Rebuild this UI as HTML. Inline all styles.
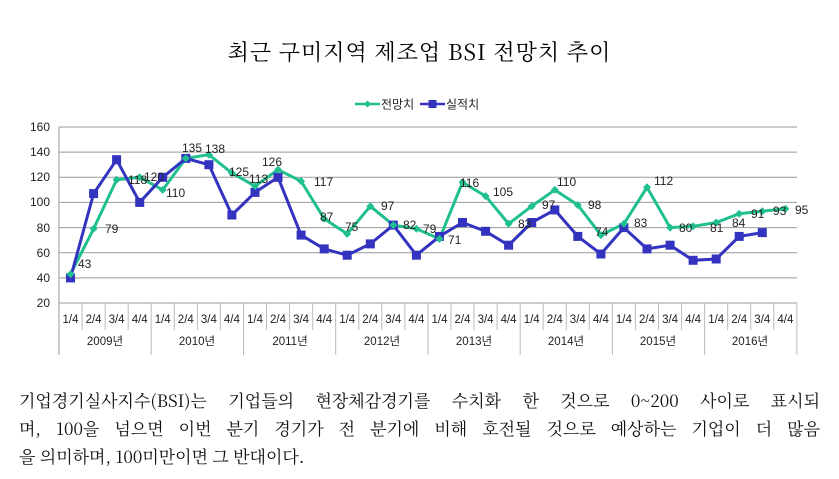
<!DOCTYPE html>
<html><head><meta charset="utf-8"><style>
body{margin:0;background:#fff;width:839px;height:479px;overflow:hidden;position:relative;font-family:"Liberation Serif","Noto Serif CJK SC",serif}
.t{position:absolute;left:0;width:839px;top:36px;text-align:center;font-size:22px;color:#000;letter-spacing:1px;font-family:"Noto Serif CJK SC",serif}
.p{position:absolute;left:19px;width:801px;font-size:17px;color:#111;text-align:justify;text-align-last:justify;white-space:nowrap;font-family:"Noto Serif CJK SC",serif;line-height:24px}
</style></head><body>
<div class="t">최근 구미지역 제조업 BSI 전망치 추이</div>
<svg width="839" height="479" style="position:absolute;left:0;top:0" font-family="Liberation Sans,Noto Sans CJK KR,sans-serif">
<g stroke="#999" stroke-width="1">
<line x1="59" y1="127" x2="797" y2="127"/><line x1="59" y1="152.1" x2="797" y2="152.1"/><line x1="59" y1="177.3" x2="797" y2="177.3"/><line x1="59" y1="202.4" x2="797" y2="202.4"/><line x1="59" y1="227.6" x2="797" y2="227.6"/><line x1="59" y1="252.7" x2="797" y2="252.7"/><line x1="59" y1="277.9" x2="797" y2="277.9"/><line x1="59" y1="303" x2="797" y2="303"/>
<line x1="59" y1="127" x2="59" y2="355"/>
</g>
<g stroke="#bbb" stroke-width="1">
<path d="M82.1 303V330M105.1 303V330M128.2 303V330M174.3 303V330M197.4 303V330M220.4 303V330M266.5 303V330M289.6 303V330M312.7 303V330M358.8 303V330M381.8 303V330M404.9 303V330M451 303V330M474 303V330M497.1 303V330M543.2 303V330M566.3 303V330M589.3 303V330M635.4 303V330M658.5 303V330M681.6 303V330M727.7 303V330M750.7 303V330M773.8 303V330"/>
<path d="M151.2 303V355M243.5 303V355M335.7 303V355M428 303V355M520.2 303V355M612.4 303V355M704.6 303V355M796.9 303V355"/>
</g>
<g font-size="12" fill="#222" text-anchor="end">
<text x="50" y="131">160</text><text x="50" y="156">140</text><text x="50" y="181">120</text><text x="50" y="206">100</text><text x="50" y="232">80</text><text x="50" y="257">60</text><text x="50" y="282">40</text><text x="50" y="307">20</text>
</g>
<g font-size="11.5" fill="#222" text-anchor="middle">
<text x="70.5" y="323">1/4</text><text x="93.6" y="323">2/4</text><text x="116.6" y="323">3/4</text><text x="139.7" y="323">4/4</text>
<text x="162.7" y="323">1/4</text><text x="185.8" y="323">2/4</text><text x="208.9" y="323">3/4</text><text x="231.9" y="323">4/4</text>
<text x="255" y="323">1/4</text><text x="278" y="323">2/4</text><text x="301.1" y="323">3/4</text><text x="324.2" y="323">4/4</text>
<text x="347.2" y="323">1/4</text><text x="370.3" y="323">2/4</text><text x="393.3" y="323">3/4</text><text x="416.4" y="323">4/4</text>
<text x="439.5" y="323">1/4</text><text x="462.5" y="323">2/4</text><text x="485.6" y="323">3/4</text><text x="508.6" y="323">4/4</text>
<text x="531.7" y="323">1/4</text><text x="554.8" y="323">2/4</text><text x="577.8" y="323">3/4</text><text x="600.9" y="323">4/4</text>
<text x="623.9" y="323">1/4</text><text x="647" y="323">2/4</text><text x="670.1" y="323">3/4</text><text x="693.1" y="323">4/4</text>
<text x="716.2" y="323">1/4</text><text x="739.2" y="323">2/4</text><text x="762.3" y="323">3/4</text><text x="785.4" y="323">4/4</text>
<text x="105" y="345">2009년</text><text x="197" y="345">2010년</text><text x="290" y="345">2011년</text><text x="382" y="345">2012년</text><text x="474" y="345">2013년</text><text x="566" y="345">2014년</text><text x="658" y="345">2015년</text><text x="750" y="345">2016년</text>
</g>
<polyline fill="none" stroke="#1fbf8f" stroke-width="3" points="70.5,274.1 93.6,228.8 116.6,179.8 139.7,177.3 162.7,189.9 185.8,158.4 208.9,154.7 231.9,173 255,186.1 278,169.7 301.1,181.1 324.2,218.8 347.2,233.9 370.3,206.2 393.3,225.1 416.4,228.8 439.5,238.9 462.5,182.3 485.6,196.1 508.6,223.8 531.7,206.2 554.8,189.9 577.8,205 600.9,235.1 623.9,223.8 647,187.3 670.1,227.6 693.1,226.3 716.2,222.5 739.2,213.7 762.3,211.2 785.4,208.7"/>
<polyline fill="none" stroke="#3333c0" stroke-width="3" points="70.5,277.9 93.6,193.6 116.6,159.7 139.7,202.4 162.7,177.3 185.8,158.4 208.9,164.7 231.9,215 255,192.4 278,177.3 301.1,235.1 324.2,248.9 347.2,255.2 370.3,243.9 393.3,225.1 416.4,255.2 439.5,236.4 462.5,222.5 485.6,231.3 508.6,245.2 531.7,222.5 554.8,209.9 577.8,236.4 600.9,254 623.9,227.6 647,248.9 670.1,245.2 693.1,260.3 716.2,259 739.2,236.4 762.3,232.6"/>
<g fill="#3333c0">
<rect x="66" y="273.4" width="9" height="9"/><rect x="89.1" y="189.1" width="9" height="9"/><rect x="112.1" y="155.2" width="9" height="9"/><rect x="135.2" y="197.9" width="9" height="9"/><rect x="158.2" y="172.8" width="9" height="9"/><rect x="181.3" y="153.9" width="9" height="9"/><rect x="204.4" y="160.2" width="9" height="9"/><rect x="227.4" y="210.5" width="9" height="9"/><rect x="250.5" y="187.9" width="9" height="9"/><rect x="273.5" y="172.8" width="9" height="9"/><rect x="296.6" y="230.6" width="9" height="9"/><rect x="319.7" y="244.4" width="9" height="9"/><rect x="342.7" y="250.7" width="9" height="9"/><rect x="365.8" y="239.4" width="9" height="9"/><rect x="388.8" y="220.6" width="9" height="9"/><rect x="411.9" y="250.7" width="9" height="9"/><rect x="435" y="231.9" width="9" height="9"/><rect x="458" y="218" width="9" height="9"/><rect x="481.1" y="226.8" width="9" height="9"/><rect x="504.1" y="240.7" width="9" height="9"/><rect x="527.2" y="218" width="9" height="9"/><rect x="550.3" y="205.4" width="9" height="9"/><rect x="573.3" y="231.9" width="9" height="9"/><rect x="596.4" y="249.5" width="9" height="9"/><rect x="619.4" y="223.1" width="9" height="9"/><rect x="642.5" y="244.4" width="9" height="9"/><rect x="665.6" y="240.7" width="9" height="9"/><rect x="688.6" y="255.8" width="9" height="9"/><rect x="711.7" y="254.5" width="9" height="9"/><rect x="734.7" y="231.9" width="9" height="9"/><rect x="757.8" y="228.1" width="9" height="9"/>
</g>
<g fill="#1fbf8f">
<path d="M70.5 270.1l4 4-4 4-4-4zM93.6 224.8l4 4-4 4-4-4zM116.6 175.8l4 4-4 4-4-4zM139.7 173.3l4 4-4 4-4-4zM162.7 185.9l4 4-4 4-4-4zM185.8 154.4l4 4-4 4-4-4zM208.9 150.7l4 4-4 4-4-4zM231.9 169l4 4-4 4-4-4zM255 182.1l4 4-4 4-4-4zM278 165.7l4 4-4 4-4-4zM301.1 177.1l4 4-4 4-4-4zM324.2 214.8l4 4-4 4-4-4zM347.2 229.9l4 4-4 4-4-4zM370.3 202.2l4 4-4 4-4-4zM393.3 221.1l4 4-4 4-4-4zM416.4 224.8l4 4-4 4-4-4zM439.5 234.9l4 4-4 4-4-4zM462.5 178.3l4 4-4 4-4-4zM485.6 192.1l4 4-4 4-4-4zM508.6 219.8l4 4-4 4-4-4zM531.7 202.2l4 4-4 4-4-4zM554.8 185.9l4 4-4 4-4-4zM577.8 201l4 4-4 4-4-4zM600.9 231.1l4 4-4 4-4-4zM623.9 219.8l4 4-4 4-4-4zM647 183.3l4 4-4 4-4-4zM670.1 223.6l4 4-4 4-4-4zM693.1 222.3l4 4-4 4-4-4zM716.2 218.5l4 4-4 4-4-4zM739.2 209.7l4 4-4 4-4-4zM762.3 207.2l4 4-4 4-4-4zM785.4 204.7l4 4-4 4-4-4z"/>
</g>
<g font-size="12" fill="#222">
<text x="78" y="268">43</text><text x="105" y="233">79</text><text x="128" y="184">118</text><text x="144" y="181">120</text><text x="166" y="197">110</text><text x="182" y="152">135</text><text x="205" y="153">138</text><text x="229" y="176">125</text><text x="249" y="183">113</text><text x="262" y="166">126</text><text x="314" y="186">117</text><text x="320" y="221">87</text><text x="345" y="231">75</text><text x="381" y="210">97</text><text x="403" y="229">82</text><text x="423" y="233">79</text><text x="448" y="244">71</text><text x="460" y="187">116</text><text x="493" y="196">105</text><text x="518" y="228">83</text><text x="542" y="209">97</text><text x="557" y="186">110</text><text x="588" y="209">98</text><text x="595" y="236">74</text><text x="634" y="227">83</text><text x="654" y="185">112</text><text x="679" y="232">80</text><text x="710" y="232">81</text><text x="732" y="227">84</text><text x="751" y="218">91</text><text x="773" y="215">93</text><text x="795" y="214">95</text>
</g>
<line x1="355" y1="104" x2="380" y2="104" stroke="#1fbf8f" stroke-width="2.5"/>
<path d="M367.5 100.5l3.5 3.5-3.5 3.5-3.5-3.5z" fill="#1fbf8f"/>
<text x="381" y="108.5" font-size="12" fill="#222">전망치</text>
<line x1="420" y1="104" x2="445" y2="104" stroke="#3333c0" stroke-width="2.5"/>
<rect x="428.5" y="100" width="8" height="8" fill="#3333c0"/>
<text x="446" y="108.5" font-size="12" fill="#222">실적치</text>
</svg>
<div class="p" style="top:388px">기업경기실사지수(BSI)는 기업들의 현장체감경기를 수치화 한 것으로 0~200 사이로 표시되</div>
<div class="p" style="top:416px">며, 100을 넘으면 이번 분기 경기가 전 분기에 비해 호전될 것으로 예상하는 기업이 더 많음</div>
<div class="p" style="top:444px;text-align-last:left">을 의미하며, 100미만이면 그 반대이다.</div>
</body></html>
